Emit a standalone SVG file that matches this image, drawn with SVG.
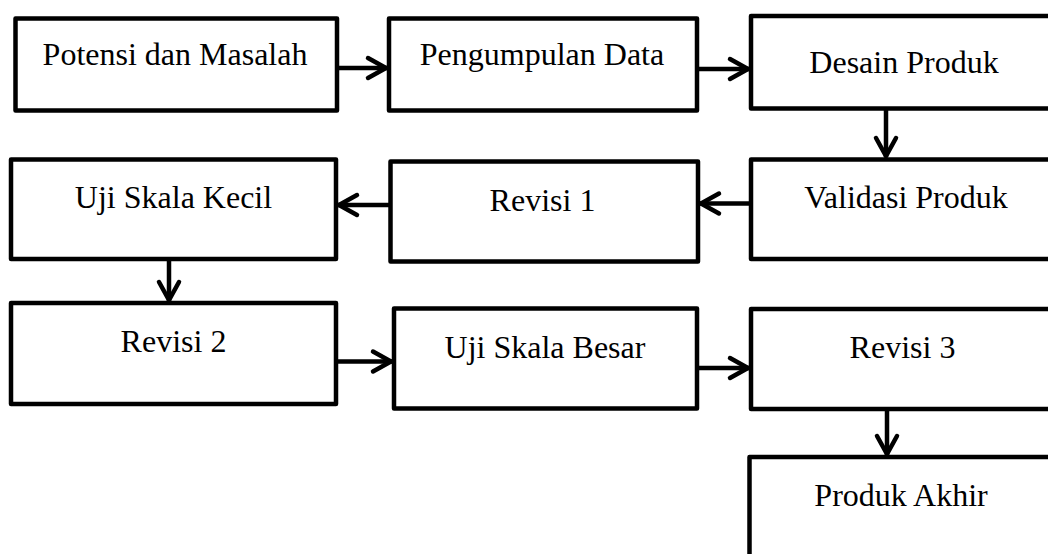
<svg xmlns="http://www.w3.org/2000/svg" width="1048" height="554" viewBox="0 0 1048 554">
  <style>
    .box { fill: #ffffff; stroke: #000000; stroke-width: 4.5; stroke-linejoin: round; }
    .lbl { font-family: "Liberation Serif", "Times New Roman", serif; font-size: 32px; fill: #000000; text-anchor: middle; }
    .con { fill: none; stroke: #000000; stroke-width: 4.5; marker-end: url(#chev); }
  </style>
  <defs>
    <marker id="chev" markerUnits="userSpaceOnUse" markerWidth="30" markerHeight="30" viewBox="-25 -15 30 30" refX="0" refY="0" orient="auto" overflow="visible">
      <path d="M-19,-10 L-1,0 L-19,10" fill="none" stroke="#000000" stroke-width="4.5" stroke-linecap="round" stroke-linejoin="miter"/>
    </marker>
  </defs>
  <rect width="1048" height="554" fill="#ffffff"/>

  <g id="connectors">
    <line class="con" x1="337" y1="68" x2="387" y2="68"/>
    <line class="con" x1="697" y1="69" x2="749" y2="69"/>
    <line class="con" x1="886" y1="110" x2="886" y2="157"/>
    <line class="con" x1="751" y1="203.5" x2="700" y2="203.5"/>
    <line class="con" x1="390" y1="205" x2="338" y2="205"/>
    <line class="con" x1="169" y1="259" x2="169" y2="301"/>
    <line class="con" x1="336" y1="361.5" x2="392" y2="361.5"/>
    <line class="con" x1="697" y1="368" x2="749" y2="368"/>
    <line class="con" x1="887" y1="409" x2="887" y2="455"/>
  </g>

  <g id="potensi">
    <rect class="box" x="15.5" y="18.5" width="321.5" height="92"/>
    <text class="lbl" x="175" y="65">Potensi dan Masalah</text>
  </g>
  <g id="pengumpulan">
    <rect class="box" x="389" y="18.5" width="308" height="92"/>
    <text class="lbl" x="542" y="65">Pengumpulan Data</text>
  </g>
  <g id="desain">
    <rect class="box" x="751" y="16" width="310" height="92.5"/>
    <text class="lbl" x="904" y="72.5">Desain Produk</text>
  </g>
  <g id="validasi">
    <rect class="box" x="751" y="159.5" width="310" height="99.5"/>
    <text class="lbl" x="906" y="208">Validasi Produk</text>
  </g>
  <g id="revisi1">
    <rect class="box" x="390.5" y="161.5" width="307.5" height="100"/>
    <text class="lbl" x="542.5" y="211">Revisi 1</text>
  </g>
  <g id="ujikecil">
    <rect class="box" x="11" y="159.5" width="325" height="99.5"/>
    <text class="lbl" x="173.5" y="208">Uji Skala Kecil</text>
  </g>
  <g id="revisi2">
    <rect class="box" x="11" y="303" width="325" height="101"/>
    <text class="lbl" x="173.5" y="351.5">Revisi 2</text>
  </g>
  <g id="ujibesar">
    <rect class="box" x="394" y="308.5" width="303" height="100"/>
    <text class="lbl" x="545" y="358">Uji Skala Besar</text>
  </g>
  <g id="revisi3">
    <rect class="box" x="751" y="309" width="310" height="100"/>
    <text class="lbl" x="902.5" y="358">Revisi 3</text>
  </g>
  <g id="produkakhir">
    <rect class="box" x="749.5" y="457" width="312" height="115"/>
    <text class="lbl" x="901" y="506">Produk Akhir</text>
  </g>
</svg>
